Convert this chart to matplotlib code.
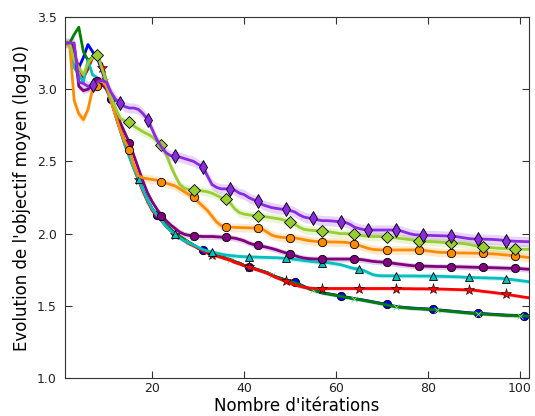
import numpy as np
import matplotlib.pyplot as plt

iterations = np.arange(1, 103)

# log10 of the mean objective, one value per iteration
blue_vals = [
    3.32, 3.32, 3.20, 3.15, 3.22, 3.31, 3.26, 3.22, 3.13, 3.04,
    2.93, 2.82, 2.72, 2.63, 2.55, 2.46, 2.38, 2.30, 2.23, 2.17,
    2.13, 2.10, 2.06, 2.03, 2.00, 1.98, 1.96, 1.94, 1.92, 1.90,
    1.885, 1.87, 1.86, 1.85, 1.84, 1.83, 1.82, 1.805, 1.795, 1.78,
    1.77, 1.76, 1.75, 1.74, 1.73, 1.715, 1.70, 1.69, 1.68, 1.67,
    1.663, 1.65, 1.635, 1.62, 1.61, 1.60, 1.59, 1.585, 1.58, 1.574,
    1.568, 1.562, 1.556, 1.55, 1.545, 1.54, 1.534, 1.528, 1.522, 1.516,
    1.51, 1.503, 1.496, 1.492, 1.489, 1.486, 1.484, 1.482, 1.48, 1.478,
    1.476, 1.473, 1.47, 1.467, 1.464, 1.461, 1.458, 1.455, 1.452, 1.45,
    1.448, 1.446, 1.444, 1.442, 1.44, 1.438, 1.436, 1.435, 1.434, 1.433,
    1.431, 1.43]
green_vals = [
    3.32, 3.32, 3.38, 3.43, 3.26, 3.20, 3.22, 3.24, 3.16, 3.06,
    2.94, 2.83, 2.73, 2.64, 2.56, 2.47, 2.38, 2.30, 2.23, 2.17,
    2.13, 2.10, 2.06, 2.03, 2.00, 1.98, 1.96, 1.94, 1.92, 1.90,
    1.885, 1.87, 1.86, 1.85, 1.84, 1.83, 1.82, 1.805, 1.795, 1.78,
    1.77, 1.76, 1.75, 1.74, 1.73, 1.715, 1.70, 1.69, 1.678, 1.668,
    1.66, 1.648, 1.633, 1.62, 1.609, 1.60, 1.59, 1.584, 1.578, 1.572,
    1.566, 1.56, 1.555, 1.55, 1.544, 1.538, 1.532, 1.526, 1.52, 1.514,
    1.506, 1.50, 1.494, 1.49, 1.487, 1.484, 1.482, 1.48, 1.478, 1.476,
    1.474, 1.471, 1.468, 1.465, 1.462, 1.459, 1.456, 1.453, 1.45, 1.448,
    1.446, 1.444, 1.442, 1.44, 1.438, 1.436, 1.434, 1.433, 1.432, 1.43,
    1.429, 1.428]
red_vals = [
    3.32, 3.32, 3.25, 3.15, 3.08, 3.14, 3.22, 3.25, 3.15, 3.05,
    2.93, 2.82, 2.72, 2.62, 2.54, 2.45, 2.37, 2.29, 2.22, 2.16,
    2.12, 2.09, 2.05, 2.02, 1.99, 1.97, 1.95, 1.93, 1.915, 1.90,
    1.88, 1.866, 1.855, 1.845, 1.835, 1.825, 1.815, 1.80, 1.79, 1.778,
    1.768, 1.758, 1.748, 1.737, 1.725, 1.71, 1.695, 1.683, 1.67, 1.655,
    1.645, 1.636, 1.628, 1.624, 1.621, 1.62, 1.62, 1.62, 1.62, 1.62,
    1.62, 1.62, 1.62, 1.62, 1.62, 1.62, 1.62, 1.62, 1.62, 1.62,
    1.62, 1.62, 1.62, 1.62, 1.619, 1.619, 1.618, 1.618, 1.618, 1.617,
    1.617, 1.616, 1.616, 1.615, 1.614, 1.613, 1.612, 1.611, 1.61, 1.608,
    1.605, 1.60, 1.597, 1.593, 1.589, 1.585, 1.58, 1.575, 1.57, 1.565,
    1.56, 1.556]
cyan_vals = [
    3.32, 3.32, 3.15, 3.10, 3.05, 3.20, 3.10, 3.08, 3.05, 3.00,
    2.92, 2.82, 2.72, 2.62, 2.53, 2.45, 2.38, 2.30, 2.23, 2.17,
    2.13, 2.09, 2.05, 2.02, 1.995, 1.97, 1.95, 1.935, 1.92, 1.905,
    1.89, 1.88, 1.873, 1.865, 1.858, 1.852, 1.848, 1.845, 1.842, 1.84,
    1.84, 1.838, 1.837, 1.836, 1.835, 1.834, 1.833, 1.831, 1.829, 1.826,
    1.822, 1.818, 1.813, 1.81, 1.806, 1.803, 1.80, 1.80, 1.795, 1.79,
    1.785, 1.776, 1.766, 1.758, 1.755, 1.745, 1.73, 1.716, 1.71, 1.708,
    1.708, 1.708, 1.708, 1.707, 1.707, 1.707, 1.707, 1.706, 1.706, 1.706,
    1.706, 1.705, 1.704, 1.703, 1.702, 1.701, 1.70, 1.698, 1.697, 1.696,
    1.695, 1.694, 1.693, 1.692, 1.691, 1.69, 1.686, 1.683, 1.679, 1.675,
    1.671, 1.667]
purple_vals = [
    3.32, 3.32, 3.30, 3.02, 2.99, 3.00, 3.03, 3.06, 3.04, 3.00,
    2.94, 2.86, 2.77, 2.70, 2.63, 2.54, 2.45, 2.36, 2.28, 2.22,
    2.17, 2.125, 2.09, 2.06, 2.035, 2.01, 1.995, 1.988, 1.985, 1.982,
    1.98, 1.98, 1.98, 1.978, 1.976, 1.974, 1.972, 1.968, 1.96, 1.95,
    1.935, 1.925, 1.918, 1.912, 1.905, 1.897, 1.888, 1.877, 1.867, 1.858,
    1.848, 1.838, 1.831, 1.827, 1.825, 1.824, 1.824, 1.824, 1.824, 1.824,
    1.824, 1.824, 1.824, 1.824, 1.822, 1.818, 1.813, 1.808, 1.805, 1.803,
    1.801, 1.797, 1.792, 1.788, 1.784, 1.78, 1.777, 1.776, 1.775, 1.774,
    1.773, 1.772, 1.772, 1.771, 1.771, 1.77, 1.77, 1.769, 1.768, 1.767,
    1.766, 1.766, 1.765, 1.764, 1.763, 1.762, 1.761, 1.76, 1.76, 1.758,
    1.755, 1.753]
orange_vals = [
    3.32, 3.32, 2.92, 2.83, 2.79, 2.86, 3.00, 3.02, 3.06, 3.02,
    2.92, 2.82, 2.72, 2.64, 2.579, 2.47, 2.40, 2.385, 2.38, 2.375,
    2.37, 2.36, 2.35, 2.34, 2.33, 2.31, 2.29, 2.27, 2.251, 2.22,
    2.19, 2.16, 2.12, 2.08, 2.055, 2.048, 2.045, 2.043, 2.042, 2.041,
    2.04, 2.039, 2.037, 2.03, 2.01, 1.99, 1.98, 1.975, 1.972, 1.972,
    1.97, 1.965, 1.958, 1.952, 1.948, 1.945, 1.944, 1.943, 1.942, 1.942,
    1.941, 1.94, 1.935, 1.926, 1.918, 1.908, 1.898, 1.891, 1.888, 1.887,
    1.887, 1.887, 1.887, 1.887, 1.887, 1.887, 1.887, 1.887, 1.885, 1.88,
    1.876, 1.872, 1.87, 1.869, 1.868, 1.867, 1.866, 1.866, 1.865, 1.865,
    1.864, 1.864, 1.862, 1.86, 1.858, 1.855, 1.852, 1.849, 1.845, 1.842,
    1.838, 1.835]
yellowgreen_vals = [
    3.32, 3.32, 3.20, 3.15, 3.10, 3.18, 3.22, 3.24, 3.15, 3.05,
    2.95, 2.87, 2.80, 2.78, 2.771, 2.745, 2.725, 2.705, 2.69, 2.67,
    2.64, 2.614, 2.55, 2.47, 2.40, 2.34, 2.315, 2.305, 2.302, 2.30,
    2.295, 2.29, 2.28, 2.265, 2.25, 2.237, 2.21, 2.17, 2.145, 2.135,
    2.13, 2.125, 2.122, 2.12, 2.115, 2.11, 2.105, 2.10, 2.09, 2.082,
    2.065, 2.045, 2.03, 2.025, 2.022, 2.02, 2.02, 2.015, 2.01, 2.005,
    2.0, 2.0, 1.998, 1.997, 1.99, 1.985, 1.982, 1.98, 1.98, 1.98,
    1.979, 1.975, 1.971, 1.967, 1.963, 1.959, 1.955, 1.951, 1.948, 1.946,
    1.944, 1.942, 1.94, 1.938, 1.937, 1.935, 1.933, 1.93, 1.925, 1.918,
    1.912, 1.909, 1.906, 1.903, 1.9, 1.898, 1.896, 1.894, 1.893, 1.892,
    1.891, 1.891]
violet_vals = [
    3.32, 3.32, 3.32, 3.05, 3.04, 3.02, 3.03, 3.05, 3.06, 3.05,
    2.98, 2.93, 2.906, 2.88, 2.87, 2.87, 2.86, 2.83, 2.79, 2.72,
    2.65, 2.60, 2.56, 2.54, 2.537, 2.53, 2.52, 2.51, 2.50, 2.48,
    2.463, 2.40, 2.34, 2.32, 2.31, 2.31, 2.309, 2.30, 2.28, 2.27,
    2.25, 2.235, 2.228, 2.20, 2.19, 2.18, 2.175, 2.17, 2.168, 2.16,
    2.15, 2.13, 2.115, 2.108, 2.106, 2.095, 2.09, 2.09, 2.088, 2.085,
    2.082, 2.078, 2.065, 2.045, 2.035, 2.028, 2.025, 2.025, 2.025, 2.025,
    2.025, 2.025, 2.025, 2.02, 2.01, 2.0, 1.993, 1.99, 1.99, 1.988,
    1.987, 1.986, 1.985, 1.984, 1.983, 1.98, 1.975, 1.97, 1.965, 1.963,
    1.963, 1.962, 1.961, 1.96, 1.958, 1.955, 1.951, 1.949, 1.947, 1.946,
    1.945, 1.944]

# half width of the shaded band around each curve
spreads = [0.012, 0.012, 0.012, 0.015, 0.02, 0.03, 0.03, 0.035]


def draw(ax, y, spread, color, marker, every, ms, mec='k', mew=0.6):
    y = np.array(y)
    ax.fill_between(iterations, y - spread, y + spread, color=color,
                    alpha=0.2, lw=0)
    ax.plot(iterations, y, color=color, lw=2, marker=marker, ms=ms,
            markevery=(every, every), mec=mec, mew=mew)


def main():
    fig = plt.figure(figsize=(5.35, 4.16), dpi=100)
    ax = fig.add_axes([0.1215, 0.0913, 0.8673, 0.8677])

    draw(ax, blue_vals, spreads[0], 'blue', 'o', 10, 6)
    draw(ax, green_vals, spreads[1], 'green', 'x', 9, 5, mec='#8fd08f')
    draw(ax, red_vals, spreads[2], 'red', '*', 8, 8, mew=0.4)
    draw(ax, cyan_vals, spreads[3], 'c', '^', 8, 6)
    draw(ax, purple_vals, spreads[4], 'purple', 'o', 7, 6)
    draw(ax, orange_vals, spreads[5], 'darkorange', 'o', 7, 6)
    draw(ax, yellowgreen_vals, spreads[6], 'yellowgreen', 'D', 7, 6)
    draw(ax, violet_vals, spreads[7], 'blueviolet', 'd', 6, 7)

    ax.set_xlim(1, 102)
    ax.set_ylim(1.0, 3.5)
    ax.set_xticks([20, 40, 60, 80, 100])
    ax.set_yticks([1.0, 1.5, 2.0, 2.5, 3.0, 3.5])
    ax.tick_params(direction='in', top=True, right=True, length=5,
                   labelsize=9, pad=6, colors='#333333', labelcolor='#222222')
    ax.tick_params(axis='x', pad=3)
    ax.set_xlabel("Nombre d'itérations", fontsize=12, labelpad=1)
    ax.set_ylabel("Evolution de l'objectif moyen (log10)", fontsize=12)
    for s in ax.spines.values():
        s.set_color('#333333')

    fig.savefig('out.png', dpi=100)


if __name__ == '__main__':
    main()
